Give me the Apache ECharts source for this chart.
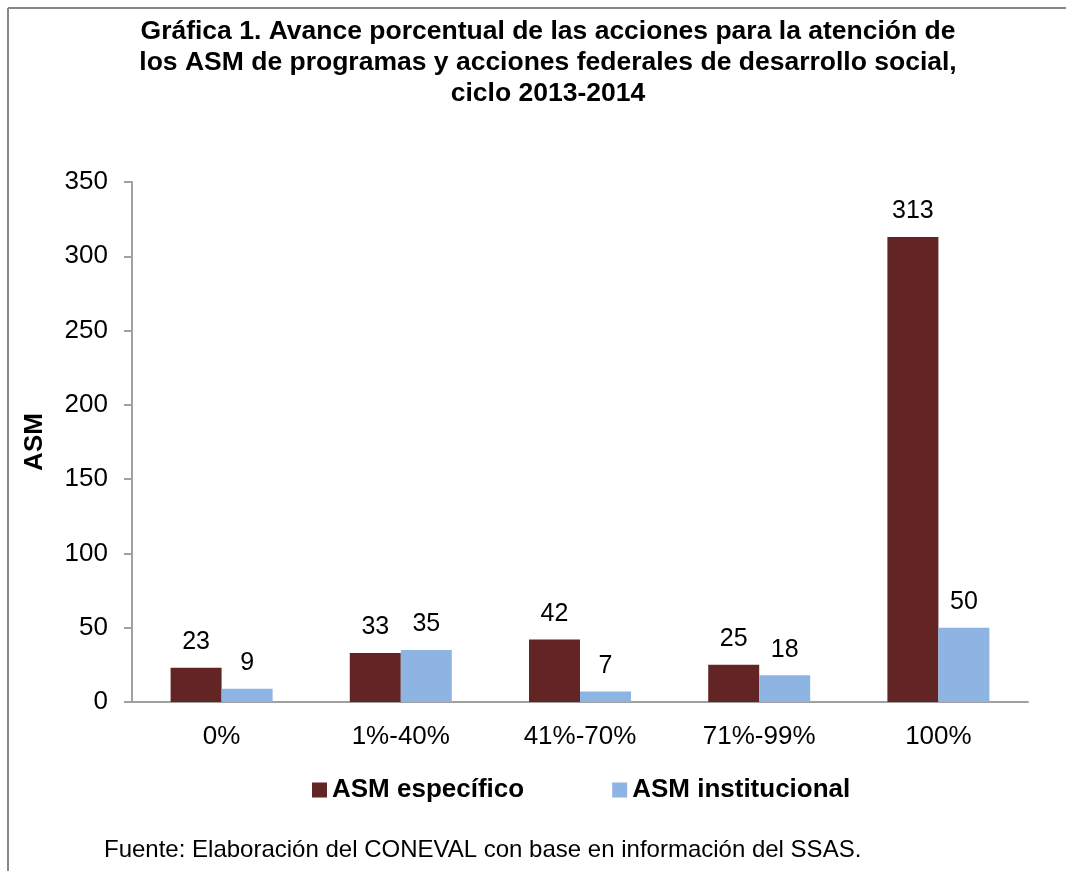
<!DOCTYPE html>
<html>
<head>
<meta charset="utf-8">
<script src="https://cdn.jsdelivr.net/npm/echarts@6/dist/echarts.min.js"></script>
<style>
  html, body { margin: 0; padding: 0; background: #fff; }
  #chart { width: 1066px; height: 871px; }
</style>
</head>
<body>
<div id="chart"></div>
<script>
// datos
var categorias = ["0%", "1%-40%", "41%-70%", "71%-99%", "100%"];
var asmEspecifico = [23, 33, 42, 25, 313];
var asmInstitucional = [9, 35, 7, 18, 50];
var yTicks = [0, 50, 100, 150, 200, 250, 300, 350];

var fuente = "Liberation Sans, Arial, sans-serif";

var chart = echarts.init(document.getElementById("chart"));
chart.setOption({
  animation: false,
  textStyle: { fontFamily: fuente, color: "#000" },
  title: {
    text: "Gráfica 1. Avance porcentual de las acciones para la atención de\nlos ASM de programas y acciones federales de desarrollo social,\nciclo 2013-2014",
    left: 543,
    textAlign: "center",
    top: 11,
    textStyle: {
      fontFamily: fuente,
      fontSize: 26.5,
      fontWeight: "bold",
      lineHeight: 31,
      color: "#000"
    }
  },
  grid: {
    left: 132,
    right: 38,
    top: 182,
    bottom: 169,
    containLabel: false
  },
  legend: {
    data: ["ASM específico", "ASM institucional"],
    top: 772,
    left: 307,
    itemWidth: 15,
    itemHeight: 15,
    itemGap: 88,
    icon: "rect",
    textStyle: {
      fontFamily: fuente,
      fontSize: 26,
      fontWeight: "bold",
      color: "#000"
    }
  },
  xAxis: {
    type: "category",
    data: categorias,
    axisTick: { show: false },
    axisLine: { show: true, lineStyle: { color: "#a0a0a0", width: 2 } },
    axisLabel: {
      fontFamily: fuente,
      fontSize: 26,
      color: "#000",
      margin: 22
    }
  },
  yAxis: {
    type: "value",
    min: yTicks[0],
    max: yTicks[yTicks.length - 1],
    interval: 50,
    name: "ASM",
    nameLocation: "middle",
    nameGap: 84,
    nameRotate: 90,
    nameTextStyle: {
      fontFamily: fuente,
      fontSize: 26,
      fontWeight: "bold",
      color: "#000"
    },
    splitLine: { show: false },
    axisLine: { show: true, lineStyle: { color: "#a0a0a0", width: 2 } },
    axisTick: { show: true, length: 8, lineStyle: { color: "#a0a0a0", width: 2 } },
    axisLabel: {
      fontFamily: fuente,
      fontSize: 26,
      color: "#000",
      margin: 24
    }
  },
  series: [
    {
      name: "ASM específico",
      type: "bar",
      data: asmEspecifico,
      barWidth: 51,
      barGap: "0%",
      itemStyle: { color: "#632523" },
      label: {
        show: true,
        position: "top",
        distance: 13,
        fontFamily: fuente,
        fontSize: 25,
        color: "#000"
      }
    },
    {
      name: "ASM institucional",
      type: "bar",
      data: asmInstitucional,
      barWidth: 51,
      barGap: "0%",
      itemStyle: { color: "#8EB4E3" },
      label: {
        show: true,
        position: "top",
        distance: 13,
        fontFamily: fuente,
        fontSize: 25,
        color: "#000"
      }
    }
  ],
  graphic: [
    {
      type: "line",
      shape: { x1: 8, y1: 8, x2: 8, y2: 871 },
      style: { stroke: "#888", lineWidth: 2 }
    },
    {
      type: "line",
      shape: { x1: 8, y1: 8, x2: 1066, y2: 8 },
      style: { stroke: "#888", lineWidth: 2 }
    },
    {
      type: "text",
      left: 104,
      top: 838,
      style: {
        text: "Fuente: Elaboración del CONEVAL con base en información del SSAS.",
        font: "24px " + fuente,
        fill: "#000"
      }
    }
  ]
});
</script>
</body>
</html>
